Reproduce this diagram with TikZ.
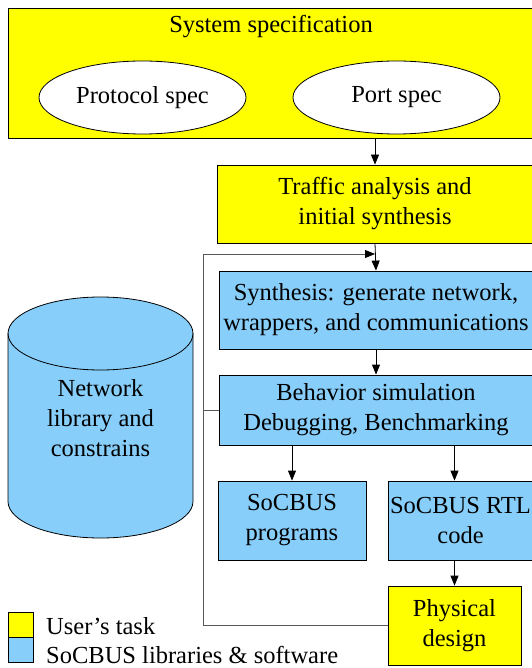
\documentclass[tikz,border=0pt]{standalone}
\usepackage{fontspec}
\setmainfont{Liberation Serif}
\usetikzlibrary{shapes.geometric,arrows.meta}
\definecolor{usercol}{HTML}{FFFF00}
\definecolor{libcol}{HTML}{87CEFA}

\begin{document}
\begin{tikzpicture}[%
        x = 1pt, y = -1pt,
        every node/.style = {font=\fontsize{24.5}{30}\selectfont, align=center, inner sep=0pt},
        userbox/.style = {draw, line width=0.8pt, fill=usercol, rectangle},
        libbox/.style = {draw, line width=0.8pt, fill=libcol, rectangle},
        spec/.style = {draw, line width=0.8pt, fill=white, ellipse, minimum width=207pt, minimum height=73pt},
        arr/.style = {line width=0.8pt, -{Triangle[length=10pt,width=8pt,color=black]}},
        fb/.style = {draw=black!65, line width=0.8pt}
    ]
      \useasboundingbox (0,0) rectangle (531,668);
      \node[userbox, minimum width=525pt, minimum height=130pt] (sys) at (270.5,73) {};
      \node (systitle) at (271,27) {System specification};
      \node[spec] (proto) at (142.5,97.5) {Protocol spec};
      \node[spec] (port) at (396.5,97.5) {Port spec};
      \node[userbox, minimum width=316pt, minimum height=78pt] (traffic) at (375,204) {Traffic analysis and\\initial synthesis};
      \node[libbox, minimum width=314pt, minimum height=78pt] (synth) at (376,310) {Synthesis: generate network,\\wrappers, and communications};
      \node[libbox, minimum width=314pt, minimum height=70pt] (behav) at (376,410) {Behavior simulation\\Debugging, Benchmarking};
      \node[libbox, minimum width=148pt, minimum height=79pt] (prog) at (292,520.5) {SoCBUS\\programs};
      \node[libbox, minimum width=145pt, minimum height=79pt] (rtl) at (460.5,520.5) {SoCBUS RTL\\code};
      \node[userbox, minimum width=133pt, minimum height=79pt] (phys) at (454.5,625.5) {Physical\\design};
      \draw[line width=0.8pt, fill=libcol] (8,333.5) -- (8,501.5) arc (180:360:92.5pt and 36.5pt)
            -- (193,333.5) arc (0:180:92.5pt and 36.5pt) -- cycle;
      \draw[line width=0.8pt] (8,333.5) arc (180:360:92.5pt and 36.5pt);
      \node (lib) at (100.5,418) {Network\\library and\\constrains};
      \node[userbox, minimum size=25pt] (ukey) at (20.5,624.5) {};
      \node[libbox, minimum size=25pt] (lkey) at (20.5,649.5) {};
      \node[anchor=west] (utext) at (46,626) {User's task};
      \node[anchor=west] (ltext) at (46,655) {SoCBUS libraries \& software};
      \coordinate (fbtop) at (203,254);
      \coordinate (fbbot) at (203,625.5);
      \draw[arr] (sys.south -| traffic.north) -- (traffic.north);
      \draw[arr] (traffic.south) -- (synth.north);
      \draw[arr] (synth.south) -- (behav.north);
      \draw[arr] (behav.south -| prog.north) -- (prog.north);
      \draw[arr] (behav.south -| phys.north) -- (rtl.north -| phys.north);
      \draw[arr] (rtl.south -| phys.north) -- (phys.north);
      \draw[fb] (phys.west) -- (fbbot) -- (fbtop);
      \draw[fb] (behav.west) -- (behav.west -| fbtop);
      \draw[arr, draw=black!65] (fbtop) -- (fbtop -| traffic.south);
    \end{tikzpicture}
\end{document}
